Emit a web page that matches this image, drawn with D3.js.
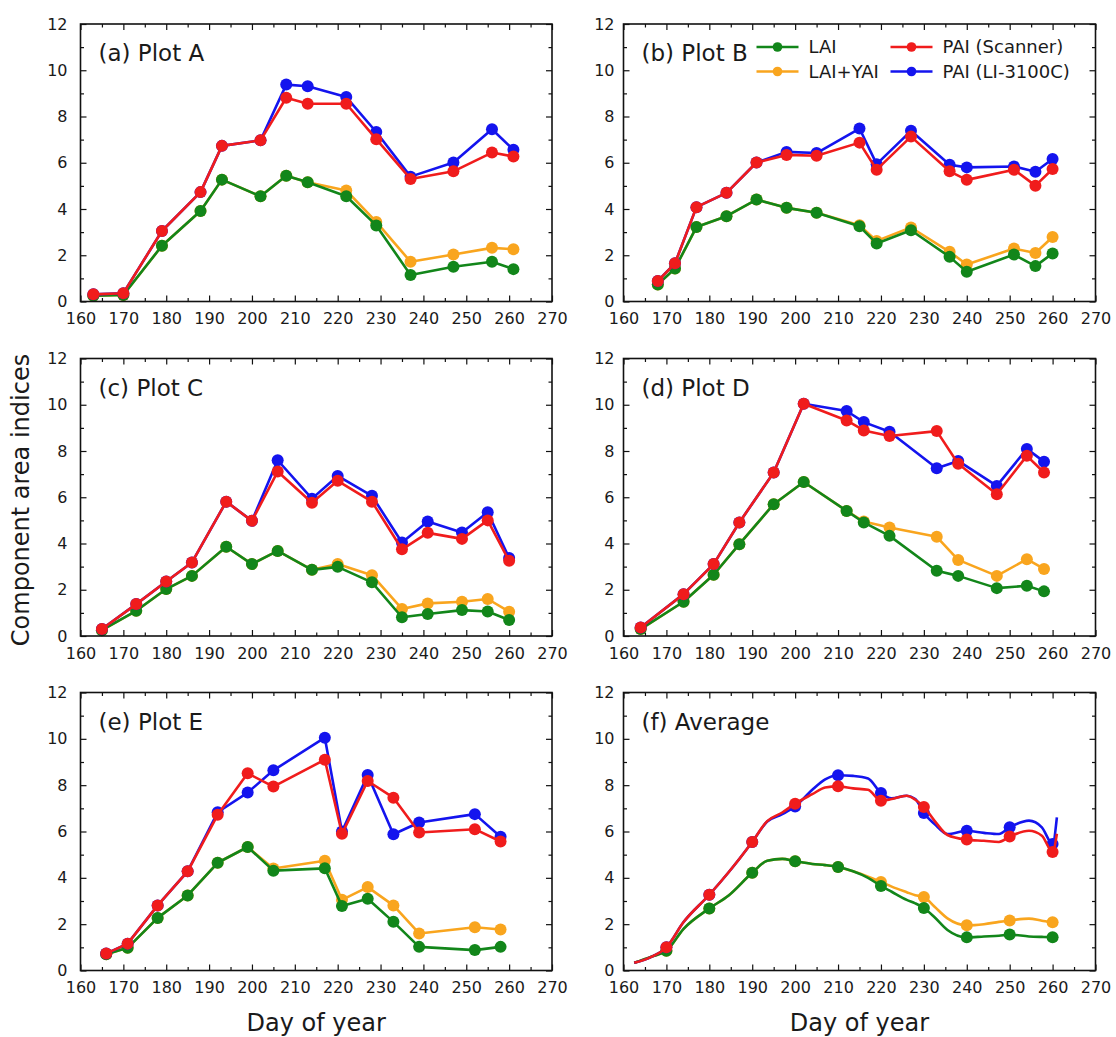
<!DOCTYPE html>
<html>
<head>
<meta charset="utf-8">
<script src="https://cdn.jsdelivr.net/npm/d3@7"></script>
<style>
  html, body { margin: 0; padding: 0; background: #ffffff; }
  svg { display: block; }
  text { font-family: "DejaVu Sans", sans-serif; fill: #1a1a1a; }
</style>
</head>
<body>
<div id="chart"></div>
<script>
// ---- Data: day of year and component area indices for each plot ----
// (a) Plot A
const dayA    = [163, 170, 179, 188, 193, 202, 208, 213, 222, 229, 237, 247, 256, 261];
const laiA    = [0.25, 0.28, 2.41, 3.91, 5.27, 4.55, 5.44, 5.16, 4.55, 3.29, 1.15, 1.50, 1.72, 1.40];
const yaiA    = [0.25, 0.28, 2.41, 3.91, 5.27, 4.55, 5.44, 5.16, 4.80, 3.44, 1.72, 2.03, 2.32, 2.26];
const scanA   = [0.31, 0.36, 3.05, 4.73, 6.73, 6.97, 8.81, 8.55, 8.55, 7.02, 5.30, 5.63, 6.44, 6.27];
const licorA  = [0.31, 0.36, 3.05, 4.73, 6.73, 6.97, 9.38, 9.31, 8.84, 7.33, 5.40, 6.01, 7.45, 6.56];

// (b) Plot B
const dayB    = [168, 172, 177, 184, 191, 198, 205, 215, 219, 227, 236, 240, 251, 256, 260];
const laiB    = [0.74, 1.43, 3.22, 3.69, 4.41, 4.05, 3.84, 3.25, 2.51, 3.08, 1.93, 1.29, 2.03, 1.53, 2.08];
const yaiB    = [0.74, 1.43, 3.22, 3.69, 4.41, 4.05, 3.84, 3.30, 2.62, 3.20, 2.15, 1.60, 2.29, 2.10, 2.79];
const scanB   = [0.89, 1.65, 4.08, 4.70, 6.01, 6.34, 6.30, 6.87, 5.70, 7.13, 5.63, 5.26, 5.70, 5.01, 5.73];
const licorB  = [0.89, 1.65, 4.08, 4.70, 6.01, 6.47, 6.42, 7.48, 5.94, 7.38, 5.91, 5.80, 5.84, 5.61, 6.16];

// (c) Plot C
const dayC    = [165, 173, 180, 186, 194, 200, 206, 214, 220, 228, 235, 241, 249, 255, 260];
const laiC    = [0.25, 1.09, 2.03, 2.60, 3.86, 3.11, 3.68, 2.86, 2.99, 2.32, 0.81, 0.95, 1.12, 1.06, 0.69];
const yaiC    = [0.25, 1.09, 2.03, 2.60, 3.86, 3.11, 3.68, 2.86, 3.11, 2.63, 1.17, 1.41, 1.48, 1.60, 1.05];
const scanC   = [0.30, 1.38, 2.36, 3.18, 5.81, 4.98, 7.11, 5.76, 6.71, 5.81, 3.75, 4.46, 4.20, 5.00, 3.25];
const licorC  = [0.30, 1.38, 2.36, 3.18, 5.81, 4.98, 7.60, 5.94, 6.92, 6.06, 4.04, 4.95, 4.48, 5.35, 3.37];

// (d) Plot D
const dayD    = [164, 174, 181, 187, 195, 202, 212, 216, 222, 233, 238, 247, 254, 258];
const laiD    = [0.30, 1.48, 2.65, 3.97, 5.70, 6.66, 5.41, 4.91, 4.33, 2.82, 2.60, 2.07, 2.17, 1.93];
const yaiD    = [0.30, 1.48, 2.65, 3.97, 5.70, 6.66, 5.41, 4.95, 4.69, 4.29, 3.29, 2.60, 3.32, 2.90];
const scanD   = [0.37, 1.81, 3.11, 4.91, 7.07, 10.04, 9.32, 8.89, 8.65, 8.86, 7.45, 6.13, 7.79, 7.07];
const licorD  = [0.37, 1.81, 3.11, 4.91, 7.07, 10.04, 9.73, 9.25, 8.83, 7.25, 7.57, 6.49, 8.09, 7.54];

// (e) Plot E
const dayE    = [166, 171, 178, 185, 192, 199, 205, 217, 221, 227, 233, 239, 252, 258];
const laiE    = [0.70, 0.98, 2.27, 3.24, 4.65, 5.33, 4.31, 4.41, 2.78, 3.10, 2.10, 1.02, 0.88, 1.02];
const yaiE    = [0.70, 0.98, 2.27, 3.24, 4.65, 5.33, 4.40, 4.74, 3.05, 3.60, 2.81, 1.60, 1.87, 1.77];
const scanE   = [0.73, 1.16, 2.81, 4.28, 6.72, 8.51, 7.94, 9.10, 5.90, 8.18, 7.46, 5.96, 6.10, 5.57];
const licorE  = [0.73, 1.16, 2.81, 4.28, 6.83, 7.68, 8.64, 10.05, 6.00, 8.44, 5.88, 6.39, 6.75, 5.77];

// (f) Average: continuous curve, with markers every ten days
const dayF    = [162.5, 166.5, 170, 174, 180, 184.5, 190, 193.5, 197, 200, 204, 207, 210, 213.5, 217,
                 220, 222.5, 226, 228, 230, 232.5, 235.5, 240, 244, 247.5, 250, 254.5, 257.5, 260, 261];
const laiF    = [0.33, 0.60, 0.85, 1.80, 2.68, 3.24, 4.22, 4.74, 4.82, 4.72, 4.60, 4.55, 4.47, 4.28, 4.00,
                 3.65, 3.40, 3.05, 2.90, 2.70, 2.30, 1.75, 1.43, 1.47, 1.50, 1.55, 1.47, 1.45, 1.44, 1.44];
const yaiF    = [0.33, 0.60, 0.85, 1.80, 2.68, 3.24, 4.22, 4.74, 4.82, 4.72, 4.60, 4.55, 4.47, 4.28, 4.05,
                 3.82, 3.62, 3.38, 3.25, 3.17, 2.75, 2.25, 1.95, 2.00, 2.10, 2.16, 2.24, 2.15, 2.08, 2.08];
const scanF   = [0.33, 0.59, 1.00, 2.09, 3.27, 4.24, 5.55, 6.45, 6.82, 7.20, 7.61, 7.90, 7.95, 7.86, 7.80,
                 7.33, 7.40, 7.54, 7.37, 7.06, 6.46, 5.85, 5.65, 5.60, 5.55, 5.78, 6.03, 5.82, 5.12, 5.90];
const licorF  = [0.33, 0.59, 1.00, 2.09, 3.27, 4.24, 5.55, 6.43, 6.75, 7.08, 7.80, 8.25, 8.43, 8.40, 8.29,
                 7.66, 7.43, 7.54, 7.40, 6.80, 6.32, 5.89, 6.03, 5.94, 5.89, 6.18, 6.47, 6.18, 5.46, 6.61];
const markerDaysF = [170, 180, 190, 200, 210, 220, 230, 240, 250, 260];

// Axis ticks
const xMajorTicks = [160, 170, 180, 190, 200, 210, 220, 230, 240, 250, 260, 270];
const xMinorTicks = [165, 175, 185, 195, 205, 215, 225, 235, 245, 255, 265];
const yMajorTicks = [0, 2, 4, 6, 8, 10, 12];
const yMinorTicks = [1, 3, 5, 7, 9, 11];

// Series names and colours (legend order)
const seriesNames  = ["LAI", "LAI+YAI", "PAI (Scanner)", "PAI (LI-3100C)"];
const seriesColors = {"LAI": "#12861a", "LAI+YAI": "#f9a51e", "PAI (Scanner)": "#f01c1c", "PAI (LI-3100C)": "#1414ee"};

const panels = [
  {title: "(a) Plot A", col: 0, row: 0, day: dayA, s: {"LAI": laiA, "LAI+YAI": yaiA, "PAI (Scanner)": scanA, "PAI (LI-3100C)": licorA}},
  {title: "(b) Plot B", col: 1, row: 0, day: dayB, s: {"LAI": laiB, "LAI+YAI": yaiB, "PAI (Scanner)": scanB, "PAI (LI-3100C)": licorB}, legend: true},
  {title: "(c) Plot C", col: 0, row: 1, day: dayC, s: {"LAI": laiC, "LAI+YAI": yaiC, "PAI (Scanner)": scanC, "PAI (LI-3100C)": licorC}},
  {title: "(d) Plot D", col: 1, row: 1, day: dayD, s: {"LAI": laiD, "LAI+YAI": yaiD, "PAI (Scanner)": scanD, "PAI (LI-3100C)": licorD}},
  {title: "(e) Plot E", col: 0, row: 2, day: dayE, s: {"LAI": laiE, "LAI+YAI": yaiE, "PAI (Scanner)": scanE, "PAI (LI-3100C)": licorE}},
  {title: "(f) Average", col: 1, row: 2, day: dayF, s: {"LAI": laiF, "LAI+YAI": yaiF, "PAI (Scanner)": scanF, "PAI (LI-3100C)": licorF},
   smooth: true, markerDays: markerDaysF}
];

// ---- Layout ----
const W = 1116, H = 1037;
const colBox = [{x0: 80.5, x1: 552, pad: 13}, {x0: 623.5, x1: 1095.5, pad: 9}];
const rowBox = [{y0: 24, y1: 301.5}, {y0: 358.5, y1: 636}, {y0: 692.5, y1: 970.5}];
const drawOrder = ["LAI+YAI", "LAI", "PAI (LI-3100C)", "PAI (Scanner)"];

const svg = d3.select("#chart").append("svg").attr("width", W).attr("height", H);

panels.forEach(p => {
  const cb = colBox[p.col], rb = rowBox[p.row];
  const x = d3.scaleLinear().domain([160, 270]).range([cb.x0, cb.x1]);
  const y = d3.scaleLinear().domain([0, 12]).range([rb.y1, rb.y0]);
  const g = svg.append("g");

  const noDomain = sel => sel.select(".domain").remove();
  const styleTicks = sel => sel.selectAll(".tick line").attr("stroke", "#111").attr("stroke-width", 1.2);

  // bottom axis with labels, inward ticks
  g.append("g").attr("transform", `translate(0,${rb.y1})`)
    .call(d3.axisBottom(x).tickValues(xMajorTicks).tickSize(-6).tickPadding(11.5).tickFormat(d3.format("d")))
    .call(noDomain).call(styleTicks)
    .selectAll("text").attr("font-size", 16).attr("font-family", "DejaVu Sans, sans-serif").attr("fill", "#1a1a1a");
  g.append("g").attr("transform", `translate(0,${rb.y1})`)
    .call(d3.axisBottom(x).tickValues(xMinorTicks).tickSize(-3.5).tickFormat(""))
    .call(noDomain).call(styleTicks);
  // top axis, ticks only
  g.append("g").attr("transform", `translate(0,${rb.y0})`)
    .call(d3.axisTop(x).tickValues(xMajorTicks).tickSize(-6).tickFormat(""))
    .call(noDomain).call(styleTicks);
  g.append("g").attr("transform", `translate(0,${rb.y0})`)
    .call(d3.axisTop(x).tickValues(xMinorTicks).tickSize(-3.5).tickFormat(""))
    .call(noDomain).call(styleTicks);
  // left axis with labels
  g.append("g").attr("transform", `translate(${cb.x0},0)`)
    .call(d3.axisLeft(y).tickValues(yMajorTicks).tickSize(-6).tickPadding(cb.pad).tickFormat(d3.format("d")))
    .call(noDomain).call(styleTicks)
    .selectAll("text").attr("font-size", 16).attr("font-family", "DejaVu Sans, sans-serif").attr("fill", "#1a1a1a");
  g.append("g").attr("transform", `translate(${cb.x0},0)`)
    .call(d3.axisLeft(y).tickValues(yMinorTicks).tickSize(-3.5).tickFormat(""))
    .call(noDomain).call(styleTicks);
  // right axis, ticks only
  g.append("g").attr("transform", `translate(${cb.x1},0)`)
    .call(d3.axisRight(y).tickValues(yMajorTicks).tickSize(-6).tickFormat(""))
    .call(noDomain).call(styleTicks);
  g.append("g").attr("transform", `translate(${cb.x1},0)`)
    .call(d3.axisRight(y).tickValues(yMinorTicks).tickSize(-3.5).tickFormat(""))
    .call(noDomain).call(styleTicks);

  // series lines and markers
  const line = d3.line()
    .x(d => x(d[0])).y(d => y(d[1]))
    .curve(p.smooth ? d3.curveMonotoneX : d3.curveLinear);

  drawOrder.forEach(name => {
    const pts = p.day.map((d, i) => [d, p.s[name][i]]);
    const col = seriesColors[name];
    g.append("path").datum(pts)
      .attr("d", line).attr("fill", "none")
      .attr("stroke", col).attr("stroke-width", 2.6).attr("stroke-linejoin", "round");
    const mpts = p.markerDays ? pts.filter(d => p.markerDays.includes(d[0])) : pts;
    g.selectAll(null).data(mpts).enter().append("circle")
      .attr("cx", d => x(d[0])).attr("cy", d => y(d[1])).attr("r", 6)
      .attr("fill", col);
  });

  // frame
  g.append("rect")
    .attr("x", cb.x0).attr("y", rb.y0)
    .attr("width", cb.x1 - cb.x0).attr("height", rb.y1 - rb.y0)
    .attr("fill", "none").attr("stroke", "#111").attr("stroke-width", 1.6);

  // panel title
  g.append("text").attr("x", cb.x0 + 18).attr("y", rb.y0 + 37)
    .attr("font-size", 23).text(p.title);

  // legend
  if (p.legend) {
    const lg = g.append("g");
    const entries = [
      {name: "LAI", cx: cb.x0 + 133, cy: rb.y0 + 23},
      {name: "LAI+YAI", cx: cb.x0 + 133, cy: rb.y0 + 47.5},
      {name: "PAI (Scanner)", cx: cb.x0 + 267, cy: rb.y0 + 23},
      {name: "PAI (LI-3100C)", cx: cb.x0 + 267, cy: rb.y0 + 47.5}
    ];
    entries.forEach(e => {
      const col = seriesColors[e.name];
      lg.append("line").attr("x1", e.cx).attr("x2", e.cx + 42)
        .attr("y1", e.cy).attr("y2", e.cy)
        .attr("stroke", col).attr("stroke-width", 2.6);
      lg.append("circle").attr("cx", e.cx + 21).attr("cy", e.cy).attr("r", 4.8).attr("fill", col);
      lg.append("text").attr("x", e.cx + 52).attr("y", e.cy).attr("dy", "0.36em")
        .attr("font-size", 18).text(e.name);
    });
  }
});

// shared axis titles
svg.append("text")
  .attr("transform", "translate(29,500) rotate(-90)")
  .attr("text-anchor", "middle").attr("font-size", 24)
  .text("Component area indices");

colBox.forEach(cb => {
  svg.append("text")
    .attr("x", (cb.x0 + cb.x1) / 2).attr("y", 1031)
    .attr("text-anchor", "middle").attr("font-size", 24)
    .text("Day of year");
});
</script>
</body>
</html>
